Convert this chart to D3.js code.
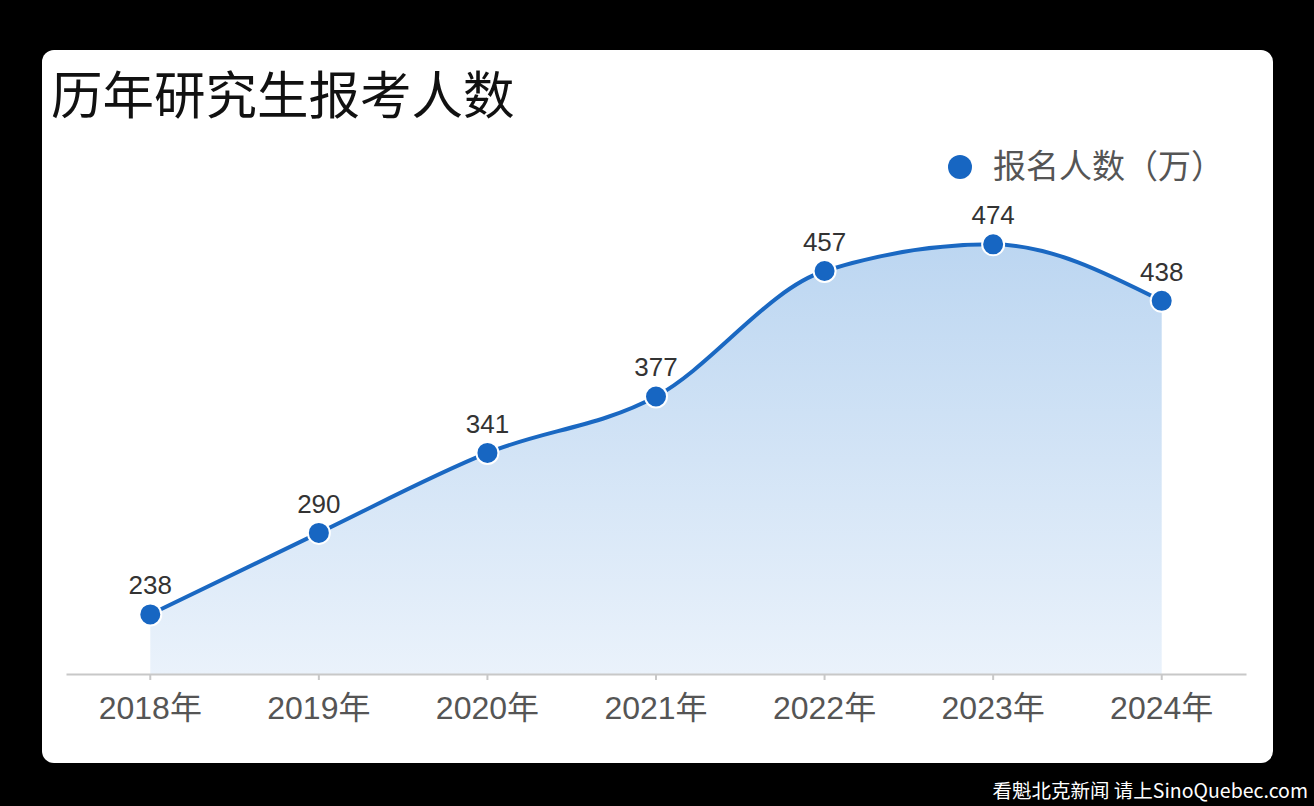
<!DOCTYPE html>
<html lang="zh">
<head>
<meta charset="utf-8">
<title>历年研究生报考人数</title>
<script src="https://cdn.jsdelivr.net/npm/d3@7/dist/d3.min.js"></script>
<style>
  html, body { margin: 0; padding: 0; background: #000; }
  svg { display: block; font-family: "Liberation Sans", "Noto Sans CJK SC", sans-serif; }
</style>
</head>
<body>
<script>
// data
var years = ["2018年", "2019年", "2020年", "2021年", "2022年", "2023年", "2024年"];
var applicants = [238, 290, 341, 377, 457, 474, 438];
var seriesName = "报名人数（万）";
var titleText = "历年研究生报考人数";

var W = 1314, H = 806;
var data = years.map(function(y, i) { return {year: y, value: applicants[i]}; });

var svg = d3.select("body").append("svg")
    .attr("width", W).attr("height", H);

svg.append("rect").attr("width", W).attr("height", H).attr("fill", "#000");

// white card
svg.append("rect")
    .attr("x", 42).attr("y", 50)
    .attr("width", 1231).attr("height", 713)
    .attr("rx", 12).attr("fill", "#fff");

svg.append("text")
    .attr("x", 51).attr("y", 114)
    .attr("font-size", 51.5)
    .attr("font-family", "'Noto Sans CJK SC', sans-serif")
    .attr("fill", "#111")
    .text(titleText);

var x = d3.scaleBand().domain(years).range([66, 1246]).padding(0);
var y = d3.scaleLinear().domain([200, 500]).range([674, 203.6]);
var cx = function(d) { return x(d.year) + x.bandwidth() / 2; };

var defs = svg.append("defs");
var grad = defs.append("linearGradient")
    .attr("id", "areaGrad").attr("x1", 0).attr("y1", 0).attr("x2", 0).attr("y2", 1);
grad.append("stop").attr("offset", "0%").attr("stop-color", "#bcd6f1");
grad.append("stop").attr("offset", "100%").attr("stop-color", "#eaf2fb");

var curve = d3.curveMonotoneX;

svg.append("path")
    .datum(data)
    .attr("fill", "url(#areaGrad)")
    .attr("d", d3.area().x(cx).y0(y(200)).y1(function(d) { return y(d.value); }).curve(curve));

// x axis
var xAxis = d3.axisBottom(x).tickSizeInner(6).tickSizeOuter(0).tickPadding(16);
var gx = svg.append("g")
    .attr("transform", "translate(0," + y(200) + ")")
    .call(xAxis);
gx.select(".domain").attr("stroke", "#c8c8c8").attr("stroke-width", 2);
gx.selectAll(".tick line").attr("stroke", "#c8c8c8").attr("stroke-width", 2);
gx.selectAll(".tick text")
    .attr("font-size", 32)
    .attr("fill", "#555")
    .attr("font-family", "'Liberation Sans', 'Noto Sans CJK SC', sans-serif");

svg.append("path")
    .datum(data)
    .attr("fill", "none")
    .attr("stroke", "#1a68c2")
    .attr("stroke-width", 4)
    .attr("d", d3.line().x(cx).y(function(d) { return y(d.value); }).curve(curve));

svg.selectAll(".pt")
    .data(data)
  .enter().append("circle")
    .attr("class", "pt")
    .attr("cx", cx)
    .attr("cy", function(d) { return y(d.value); })
    .attr("r", 11)
    .attr("fill", "#1766c2")
    .attr("stroke", "#fff")
    .attr("stroke-width", 2);

svg.selectAll(".lbl")
    .data(data)
  .enter().append("text")
    .attr("class", "lbl")
    .attr("x", cx)
    .attr("y", function(d) { return y(d.value) - 20; })
    .attr("text-anchor", "middle")
    .attr("font-size", 26)
    .attr("fill", "#333")
    .text(function(d) { return d.value; });

// legend
svg.append("circle")
    .attr("cx", 960).attr("cy", 167).attr("r", 12)
    .attr("fill", "#1766c2");
svg.append("text")
    .attr("x", 993).attr("y", 178)
    .attr("font-size", 33)
    .attr("font-family", "'Noto Sans CJK SC', sans-serif")
    .attr("fill", "#555")
    .text(seriesName);

// watermark
svg.append("text")
    .attr("x", 1308).attr("y", 798)
    .attr("text-anchor", "end")
    .attr("font-size", 19.5)
    .attr("font-family", "'Noto Sans CJK SC', sans-serif")
    .attr("fill", "#fff")
    .text("看魁北克新闻 请上SinoQuebec.com");
</script>
</body>
</html>
